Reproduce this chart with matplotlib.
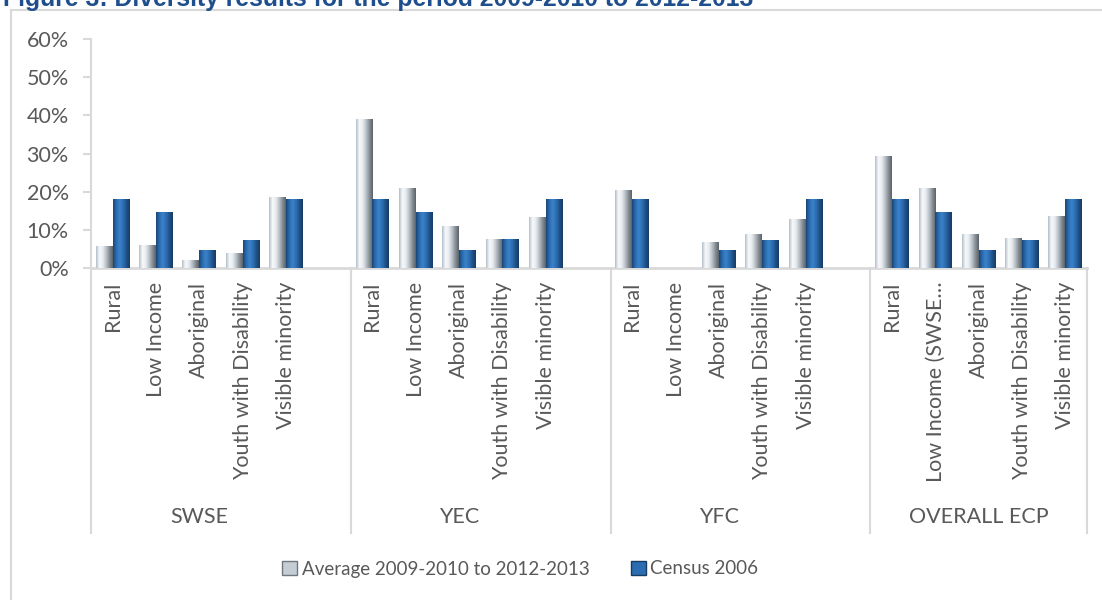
import numpy as np
import matplotlib
matplotlib.use('Agg')
import matplotlib.pyplot as plt
from matplotlib.colors import LinearSegmentedColormap
from matplotlib.patches import Patch
from matplotlib.lines import Line2D
import matplotlib.transforms as mtrans

# data (percent)
groups = ['SWSE', 'YEC', 'YFC', 'OVERALL ECP']
categories = [
    ['Rural', 'Low Income', 'Aboriginal', 'Youth with Disability', 'Visible minority'],
    ['Rural', 'Low Income', 'Aboriginal', 'Youth with Disability', 'Visible minority'],
    ['Rural', 'Low Income', 'Aboriginal', 'Youth with Disability', 'Visible minority'],
    ['Rural', 'Low Income (SWSE\u2026', 'Aboriginal', 'Youth with Disability', 'Visible minority'],
]
avg_0913 = [
    [5.6, 6.0, 2.0, 3.9, 18.6],
    [38.9, 20.9, 10.9, 7.4, 13.3],
    [20.2, 0.0, 6.7, 8.9, 12.6],
    [29.3, 20.9, 8.7, 7.6, 13.5],
]
census_2006 = [
    [18.0, 14.6, 4.6, 7.3, 18.0],
    [18.0, 14.6, 4.6, 7.4, 18.0],
    [18.0, 0.0, 4.6, 7.1, 18.0],
    [18.0, 14.6, 4.6, 7.3, 18.0],
]
series_names = ['Average 2009-2010 to 2012-2013', 'Census 2006']
yticks = [0, 10, 20, 30, 40, 50, 60]

GRAY = '#595959'
LINE = '#D9D9D9'
FS = 15.5
plt.rcParams['font.family'] = ['Lato', 'DejaVu Sans']

fig = plt.figure(figsize=(11.02, 6.0), dpi=100)
W, H = 1102, 600
ax = fig.add_axes([91 / W, 1 - 268 / H, (1087 - 91) / W, (268 - 39) / H])

# positions: 6 slots per group, last group 5 (empty slot between groups)
xpos, labels, av, ce = [], [], [], []
for g in range(len(groups)):
    for i, c in enumerate(categories[g]):
        xpos.append(g * 6 + i)
        labels.append(c)
        av.append(avg_0913[g][i])
        ce.append(census_2006[g][i])
xpos = np.array(xpos, dtype=float)
w = 0.39

b1 = ax.bar(xpos - w / 2, np.array(av) / 100, w, color='none', zorder=3)
b2 = ax.bar(xpos + w / 2, np.array(ce) / 100, w, color='none', zorder=3)

silver = LinearSegmentedColormap.from_list('silver', ['#B4BFCA', '#F7F9FB', '#E8ECF0', '#BAC1C8', '#868E96', '#5A6169'])
blue = LinearSegmentedColormap.from_list('blue', ['#1A4676', '#2C6DB1', '#3B82CA', '#2D6EB2', '#1F5189', '#163C64'])
grad = np.linspace(0, 1, 64)[None, :]
for cont, cmap in [(b1, silver), (b2, blue)]:
    for p in cont:
        x0, y0, bw, bh = p.get_x(), p.get_y(), p.get_width(), p.get_height()
        if bh <= 0:
            continue
        ax.imshow(grad, cmap=cmap, extent=[x0, x0 + bw, y0, y0 + bh], aspect='auto', zorder=3)

ax.set_xlim(-0.5, 22.5)
ax.set_ylim(0, 0.6)
ax.set_yticks([t / 100 for t in yticks])
ax.set_yticklabels([f'{t}%' for t in yticks], color=GRAY, fontsize=FS)
ax.tick_params(axis='y', length=6, width=1.5, color=LINE, pad=10)
ax.set_xticks(xpos)
ax.set_xticklabels(labels, rotation=90, va='top', ha='center', color=GRAY, fontsize=FS)
ax.tick_params(axis='x', length=0, pad=10)
for s in ['top', 'right']:
    ax.spines[s].set_visible(False)
ax.spines['left'].set_color(LINE)
ax.spines['left'].set_linewidth(1.5)
ax.spines['bottom'].set_color(LINE)
ax.spines['bottom'].set_linewidth(2)

# group separators and group labels
tr = mtrans.blended_transform_factory(ax.transData, fig.transFigure)
for b in [-0.5, 5.5, 11.5, 17.5, 22.5]:
    ax.add_line(Line2D([b, b], [1 - 268 / H, 1 - 533 / H], transform=tr, color=LINE, lw=1.5, clip_on=False))
for g, name in enumerate(groups):
    n = len(categories[g])
    ax.text(g * 6 + (n - 1) / 2, 1 - 517 / H, name, transform=tr, ha='center', va='center',
            color=GRAY, fontsize=FS)

# outer chart border
fig.add_artist(Line2D([11 / W, 11 / W], [0, 1 - 10 / H], color=LINE, lw=1.5))
fig.add_artist(Line2D([11 / W, 1], [1 - 10 / H, 1 - 10 / H], color=LINE, lw=1.5))

# title, partly cut off at the top as in the source picture
fig.text(3 / W, 1 - 6 / H, 'Figure 3: Diversity results for the period 2009-2010 to 2012-2013',
         fontsize=17.8, fontweight='bold', color='#1F4E8C', va='baseline', family=['Liberation Sans'])

handles = [Patch(facecolor='#C4CCD4', edgecolor='#6E767E', label=series_names[0]),
           Patch(facecolor='#2C6DB1', edgecolor='#163C64', label=series_names[1])]
fig.legend(handles=handles, loc='center', bbox_to_anchor=(520 / W, 1 - 569 / H), ncol=2,
           frameon=False, fontsize=13.5, labelcolor=GRAY, handlelength=0.8, handleheight=0.8,
           handletextpad=0.25, columnspacing=2.2)

fig.savefig('out.png', dpi=100)
